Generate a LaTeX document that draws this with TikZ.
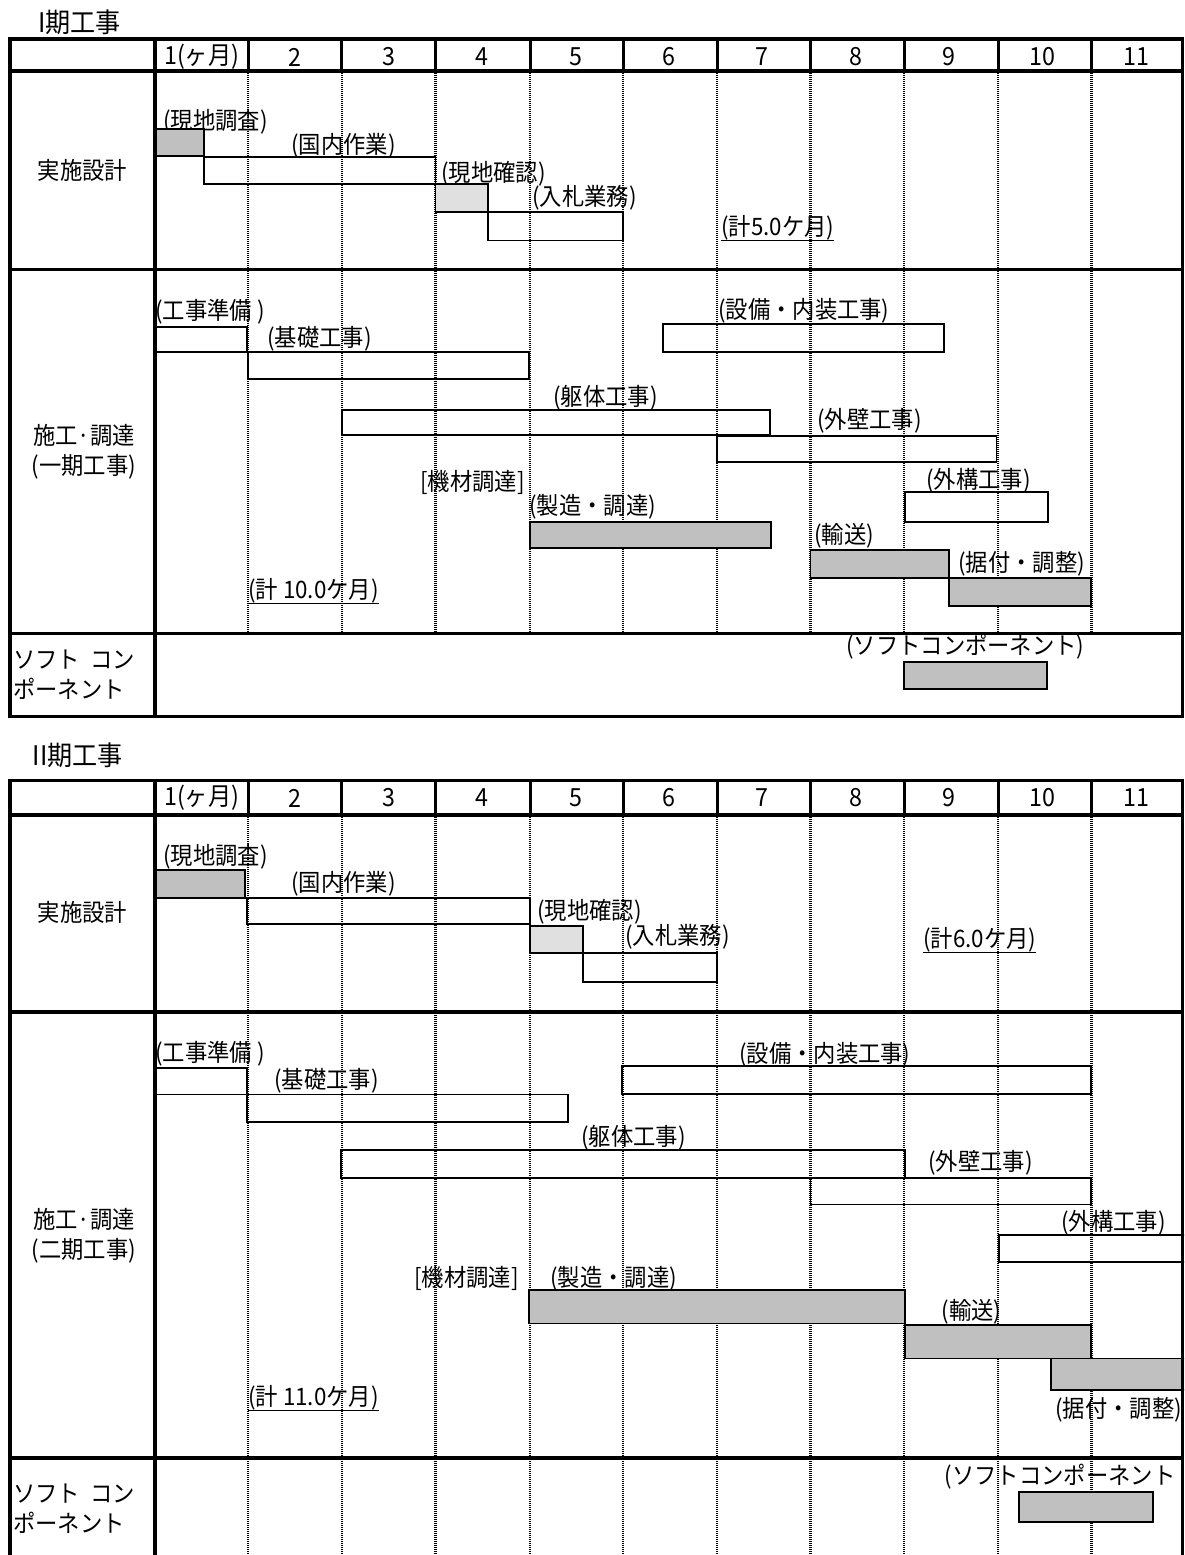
\documentclass[tikz,border=0pt]{standalone}
\usepackage{fontspec}
\newfontfamily\jp[FakeStretch=0.93]{Noto Sans CJK JP}
\definecolor{barg}{HTML}{C0C0C0}
\definecolor{lightg}{HTML}{E0E0E0}
\begin{document}
\begin{tikzpicture}[x=1pt,y=-1pt,
  lbl/.style={anchor=west,inner sep=0pt,font=\jp\fontsize{24}{28}\selectfont},
  ttl/.style={anchor=west,inner sep=0pt,font=\jp\fontsize{27}{30}\selectfont},
  ctr/.style={anchor=center,inner sep=0pt,align=center,font=\jp\fontsize{24}{30}\selectfont},
  hnum/.style={anchor=center,inner sep=0pt,font=\jp\fontsize{25}{28}\selectfont},
  bar/.style={draw=black,line width=1.6pt},
  gbar/.style={bar,fill=barg},
  lbar/.style={bar,fill=lightg},
  dotgrid/.style={line width=2.6pt,dash pattern=on 1.3pt off 0.7pt},
  hdiv/.style={line width=3pt},
  thick border/.style={line width=3.6pt},
  uline/.style={line width=1.6pt}]
\useasboundingbox (0,0) rectangle (1184,1555);
\def\cols{248,341.8,435.5,530,623,717,810.5,904,998,1091.5}
\begin{scope}
\clip (0,0) rectangle (1184,1555);

% ===================== Table I =====================
\node[ttl] (title1) at (38,22) {I期工事};
\foreach \x in \cols {
  \draw[hdiv] (\x,39) -- (\x,71);
  \draw[dotgrid] (\x,71) -- (\x,633.5);
}
\foreach \i/\t in {1/{1(ヶ月)},2/2,3/3,4/4,5/5,6/6,7/7,8/8,9/9,10/10,11/11}
  \node[hnum] (ha\i) at ({155+93.45*(\i-0.5)},57) {\t};

\node[ctr] (sa1) at (82.5,170) {実施設計};
\node[ctr] (sa2) at (84,452) {施工·調達\\(一期工事)};
\node[lbl] (sa3a) at (13,660) {ソフト\ \ コン};
\node[lbl] (sa3b) at (13,689) {ポーネント};

% labels section 1
\node[lbl] (a11) at (163,122) {(現地調査)};
\node[lbl] (a12) at (291,146) {(国内作業)};
\node[lbl] (a13) at (441,174) {(現地確認)};
\node[lbl] (a14) at (532,198) {(入札業務)};
\node[lbl] (a15) at (721,228) {(計5.0ケ月)};
\draw[uline] (a15.south west) -- (a15.south east);
% labels section 2
\node[lbl] (a21) at (155,312) {(工事準備 )};
\node[lbl] (a22) at (267,339) {(基礎工事)};
\node[lbl] (a23) at (553,398) {(躯体工事)};
\node[lbl] (a24) at (718,311) {(設備・内装工事)};
\node[lbl] (a25) at (817,421) {(外壁工事)};
\node[lbl] (a26) at (926,481) {(外構工事)};
\node[lbl] (a27) at (420,482) {[機材調達]};
\node[lbl] (a28) at (529,507) {(製造・調達)};
\node[lbl] (a29) at (814,536) {(輸送)};
\node[lbl] (a2a) at (958,564) {(据付・調整)};
\node[lbl] (a2b) at (248,591) {(計 10.0ケ月)};
\draw[uline] (a2b.south west) -- (a2b.south east);
\node[lbl] (a31) at (846,647) {(ソフトコンポーネント)};

% bars section 1
\draw[gbar] (155,129) rectangle (204,156);
\draw[bar] (204,157) rectangle (435.5,184);
\draw[lbar] (435.5,184) rectangle (488,212);
\draw[bar] (488,212) rectangle (623,240.5);
% bars section 2
\draw[bar] (155,327) rectangle (247,352);
\draw[bar] (248,352) rectangle (529,379);
\draw[bar] (342,410) rectangle (770,435);
\draw[bar] (663,324) rectangle (944,352);
\draw[bar] (717,436) rectangle (996.5,462);
\draw[bar] (905,492) rectangle (1048,522);
\draw[gbar] (530,522) rectangle (771,548);
\draw[gbar] (810.5,550) rectangle (949,578);
\draw[gbar] (949,578) rectangle (1091,606);
% bar section 3
\draw[gbar] (904,662) rectangle (1047,689);

% frame
\draw[thick border] (10,39) rectangle (1182.5,716.5);
\draw[thick border] (10,71) -- (1182.5,71);
\draw[thick border] (10,269.5) -- (1182.5,269.5);
\draw[thick border] (10,633.5) -- (1182.5,633.5);
\draw[thick border] (155,39) -- (155,716.5);

% ===================== Table II =====================
\node[ttl] (title2) at (32.5,755) {II期工事};
\foreach \x in \cols {
  \draw[hdiv] (\x,780.5) -- (\x,815);
  \draw[dotgrid] (\x,815) -- (\x,1555);
}
\foreach \i/\t in {1/{1(ヶ月)},2/2,3/3,4/4,5/5,6/6,7/7,8/8,9/9,10/10,11/11}
  \node[hnum] (hb\i) at ({155+93.45*(\i-0.5)},798) {\t};

\node[ctr] (sb1) at (82.5,912) {実施設計};
\node[ctr] (sb2) at (84,1236) {施工·調達\\(二期工事)};
\node[lbl] (sb3a) at (13,1493.5) {ソフト\ \ コン};
\node[lbl] (sb3b) at (13,1522.5) {ポーネント};

% labels section 1
\node[lbl] (b11) at (163,857) {(現地調査)};
\node[lbl] (b12) at (291,884) {(国内作業)};
\node[lbl] (b13) at (537,912) {(現地確認)};
\node[lbl] (b14) at (625,937) {(入札業務)};
\node[lbl] (b15) at (923,940) {(計6.0ケ月)};
\draw[uline] (b15.south west) -- (b15.south east);
% labels section 2
\node[lbl] (b21) at (155,1053.5) {(工事準備 )};
\node[lbl] (b22) at (274,1081) {(基礎工事)};
\node[lbl] (b23) at (581,1138) {(躯体工事)};
\node[lbl] (b24) at (739,1054.5) {(設備・内装工事)};
\node[lbl] (b25) at (928,1162.5) {(外壁工事)};
\node[lbl] (b26) at (1061,1222.5) {(外構工事)};
\node[lbl] (b27) at (414,1278.5) {[機材調達]};
\node[lbl] (b28) at (550,1278.5) {(製造・調達)};
\node[lbl] (b29) at (941.5,1311.5) {(輸送)};
\node[lbl] (b2a) at (1055,1409.5) {(据付・調整)};
\node[lbl] (b2b) at (248,1398) {(計 11.0ケ月)};
\draw[uline] (b2b.south west) -- (b2b.south east);
\node[lbl] (b31) at (944.5,1476.5) {(ソフトコンポーネント};

% bars section 1
\draw[gbar] (155,870) rectangle (245,898);
\draw[bar] (247,898) rectangle (530,924);
\draw[lbar] (530,926) rectangle (583,953);
\draw[bar] (583,953) rectangle (717,982);
% bars section 2
\draw[bar] (155,1068) rectangle (247,1094.5);
\draw[bar] (247,1094.5) rectangle (568,1122);
\draw[bar] (341,1150) rectangle (905,1178);
\draw[bar] (622,1066) rectangle (1091,1094);
\draw[bar] (810.5,1178) rectangle (1091,1204.5);
\draw[bar] (999,1235) rectangle (1190,1262);
\draw[gbar] (529,1290) rectangle (905,1323.5);
\draw[gbar] (905,1325) rectangle (1091,1358.5);
\draw[gbar] (1051,1358.5) rectangle (1190,1390);
% bar section 3
\draw[gbar] (1019,1492) rectangle (1153,1522);

% frame
\draw[thick border] (10,1560) -- (10,780.5) -- (1182.5,780.5) -- (1182.5,1560);
\draw[thick border] (10,815) -- (1182.5,815);
\draw[thick border] (10,1012) -- (1182.5,1012);
\draw[thick border] (10,1458) -- (1182.5,1458);
\draw[thick border] (155,780.5) -- (155,1560);
\end{scope}
\end{tikzpicture}
\end{document}
